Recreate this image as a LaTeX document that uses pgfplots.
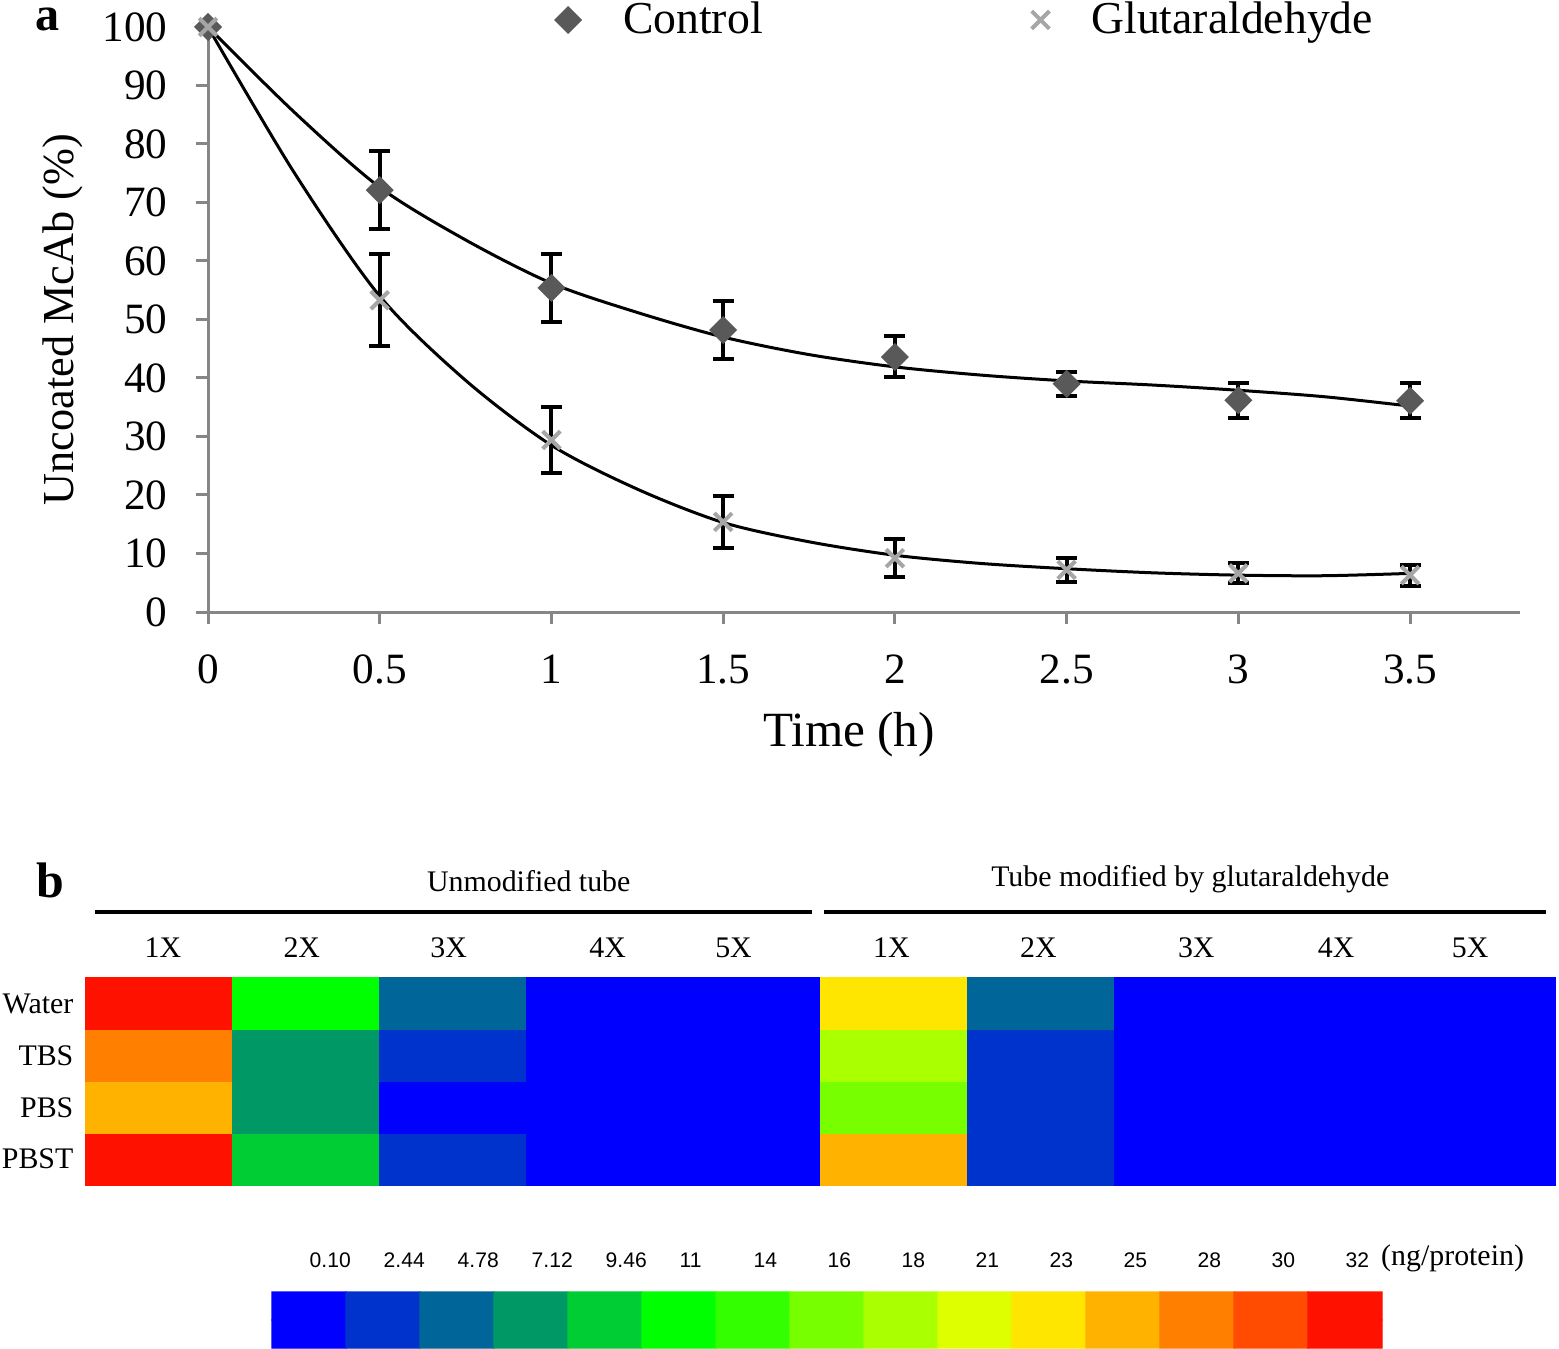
\documentclass[border=0pt]{standalone}
\usepackage{pgfplots}
\pgfplotsset{compat=1.18}
\usepackage{fontspec}
\setmainfont{Liberation Serif}
\newfontfamily\arialfont{Liberation Sans}

\definecolor{axisgray}{RGB}{134,134,134}
\definecolor{ctrlgray}{RGB}{89,89,89}
\definecolor{glutgray}{RGB}{166,166,166}

% 15 colour levels of the heat map, index 0 (0.10) .. 14 (32 ng/protein)
\pgfplotsset{
  colormap={heat}{rgb255=(0,0,255) rgb255=(0,51,204) rgb255=(0,102,153)
    rgb255=(0,153,102) rgb255=(0,204,51) rgb255=(0,255,0) rgb255=(51,255,0)
    rgb255=(119,255,0) rgb255=(170,255,0) rgb255=(221,255,0) rgb255=(255,230,0)
    rgb255=(255,179,0) rgb255=(255,127,0) rgb255=(255,76,0) rgb255=(255,17,0)}
}

\begin{document}
\begin{tikzpicture}
\useasboundingbox (0,0) rectangle (155.9mm,-134.9mm);

% ---------------- panel a ----------------
\begin{axis}[
  at={(20.8mm,-61.2mm)}, anchor=south west,
  width=131.2mm, height=58.5mm, scale only axis,
  xmin=0, xmax=3.82, ymin=0, ymax=100,
  axis lines=left, axis line style={draw=axisgray, line width=0.3mm, -},
  xtick={0,0.5,...,3.5}, ytick={0,10,...,100},
  tick align=outside, major tick length=1.2mm,
  tick style={draw=axisgray, line width=0.3mm},
  /pgf/number format/assume math mode=true,
  ticklabel style={font=\fontsize{12.3}{14}\selectfont},
  yticklabel style={anchor=east, inner sep=0pt, xshift=-2.8mm},
  xticklabel style={anchor=base, inner sep=0pt, yshift=-5.9mm},
  xlabel={Time (h)}, ylabel={Uncoated McAb (\%)},
  xlabel style={font=\fontsize{14}{16}\selectfont, at={(axis description cs:0.4886,-0.21)}, anchor=center},
  ylabel style={font=\fontsize{12.6}{15}\selectfont, at={(axis description cs:-0.111,0.5)}, anchor=center},
  clip=false,
  legend columns=2,
  legend style={draw=none, fill=none, inner sep=0pt, outer sep=0pt,
    at={(axis description cs:0.2645,1.012)}, anchor=west,
    font=\fontsize{13}{15}\selectfont,
    /tikz/every odd column/.append style={column sep=3.5mm},
    /tikz/every even column/.append style={column sep=26.2mm}},
]
\addplot[only marks, mark=square*, mark size=0.92mm,
  mark options={rotate=45, fill=ctrlgray, draw=ctrlgray},
  error bars/.cd, y dir=both, y explicit,
  error bar style={black, line width=0.4mm},
  error mark options={rotate=90, mark size=1.05mm, black, line width=0.4mm}]
  coordinates {(0.5,72.1) +- (0,6.7) (1,55.4) +- (0,5.8) (1.5,48.2) +- (0,4.9)
    (2,43.6) +- (0,3.5) (2.5,39.0) +- (0,2.1) (3,36.2) +- (0,3.0) (3.5,36.1) +- (0,3.0)};
\addlegendentry{Control}
\addplot[only marks, mark=x, mark size=1.25mm,
  mark options={draw=glutgray, line width=0.4mm},
  error bars/.cd, y dir=both, y explicit,
  error bar style={black, line width=0.4mm},
  error mark options={rotate=90, mark size=1.05mm, black, line width=0.4mm}]
  coordinates {(0.5,53.3) +- (0,7.9) (1,29.4) +- (0,5.6) (1.5,15.4) +- (0,4.5)
    (2,9.2) +- (0,3.2) (2.5,7.2) +- (0,2.1) (3,6.6) +- (0,1.7) (3.5,6.3) +- (0,1.8)};
\addlegendentry{Glutaraldehyde}
% starting points (no error bar)
\addplot[forget plot, only marks, mark=square*, mark size=0.92mm,
  mark options={rotate=45, fill=ctrlgray, draw=ctrlgray}] coordinates {(0,100)};
\addplot[forget plot, only marks, mark=x, mark size=1.25mm,
  mark options={draw=glutgray, line width=0.4mm}] coordinates {(0,100)};
% trend lines
\addplot[forget plot, black, line width=0.3mm, smooth] coordinates {
  (0,100) (0.25,85.5) (0.5,72.6) (0.75,63.6) (1,56.2) (1.25,51.2) (1.5,47.0)
  (1.75,44.0) (2,41.9) (2.25,40.5) (2.5,39.5) (2.75,38.8) (3,37.9) (3.25,36.8) (3.5,35.2)};
\addplot[forget plot, black, line width=0.3mm, smooth] coordinates {
  (0,100) (0.25,75.2) (0.5,54.0) (0.75,39.6) (1,28.5) (1.25,21.0) (1.5,15.3)
  (1.75,12.0) (2,9.7) (2.25,8.3) (2.5,7.4) (2.75,6.7) (3,6.3) (3.25,6.2) (3.5,6.6)};
\end{axis}

% ---------------- panel b: heat map ----------------
\begin{axis}[
  at={(8.6mm,-118.5mm)}, anchor=south west,
  width=146.9mm, height=20.7mm, scale only axis,
  xmin=-0.5, xmax=9.5, ymin=-0.5, ymax=3.5,
  axis line style={draw=none}, tick style={draw=none}, major tick length=0pt,
  colormap name=heat, colormap access=direct,
  xtick={0.024,0.969,1.969,3.051,3.908,4.983,5.983,7.058,8.010,8.922},
  xticklabels={1X,2X,3X,4X,5X,1X,2X,3X,4X,5X},
  xticklabel pos=right,
  xticklabel style={anchor=base, inner sep=0pt, yshift=2mm, font=\fontsize{8.5}{10}\selectfont},
  ytick={0,1,2,3}, yticklabels={PBST,PBS,TBS,Water},
  yticklabel style={anchor=east, inner sep=0pt, xshift=-1.2mm, font=\fontsize{8.5}{10}\selectfont},
  clip=false,
]
\addplot[matrix plot*, mesh/cols=10, point meta=explicit] table[meta=c] {
x y c
0 0 14
1 0 4
2 0 1
3 0 0
4 0 0
5 0 11
6 0 1
7 0 0
8 0 0
9 0 0

0 1 11
1 1 3
2 1 0
3 1 0
4 1 0
5 1 7
6 1 1
7 1 0
8 1 0
9 1 0

0 2 12
1 2 3
2 2 1
3 2 0
4 2 0
5 2 8
6 2 1
7 2 0
8 2 0
9 2 0

0 3 14
1 3 5
2 3 2
3 3 0
4 3 0
5 3 10
6 3 2
7 3 0
8 3 0
9 3 0
};
\draw[black, line width=0.33mm] (axis cs:-0.439,4.775) -- (axis cs:4.439,4.775);
\draw[black, line width=0.33mm] (axis cs:4.527,4.775) -- (axis cs:9.439,4.775);
\node[anchor=base, inner sep=0pt, font=\fontsize{8.5}{10}\selectfont] at (axis cs:2.514,5.162) {Unmodified tube};
\node[anchor=base, inner sep=0pt, font=\fontsize{8.5}{10}\selectfont] at (axis cs:7.017,5.259) {Tube modified by glutaraldehyde};
\end{axis}

% ---------------- colour scale ----------------
\begin{axis}[
  at={(27.2mm,-134.8mm)}, anchor=south west,
  width=111mm, height=5.6mm, scale only axis,
  xmin=-0.5, xmax=14.5, ymin=-0.5, ymax=1.5,
  axis line style={draw=none}, tick style={draw=none}, major tick length=0pt,
  colormap name=heat, colormap access=direct,
  ytick=\empty, xtick={0,1,...,14},
  xticklabels={0.10,2.44,4.78,7.12,9.46,11,14,16,18,21,23,25,28,30,32},
  xticklabel pos=right,
  xticklabel style={anchor=base west, inner sep=0pt, yshift=2.5mm, font=\arialfont\fontsize{6}{7}\selectfont},
  clip=false,
]
\addplot[matrix plot*, mesh/cols=15, point meta=explicit] table[meta=c] {
x y c
0 0 0
1 0 1
2 0 2
3 0 3
4 0 4
5 0 5
6 0 6
7 0 7
8 0 8
9 0 9
10 0 10
11 0 11
12 0 12
13 0 13
14 0 14

0 1 0
1 1 1
2 1 2
3 1 3
4 1 4
5 1 5
6 1 6
7 1 7
8 1 8
9 1 9
10 1 10
11 1 11
12 1 12
13 1 13
14 1 14
};
\node[anchor=base west, inner sep=0pt, font=\fontsize{8.5}{10}\selectfont] at (axis cs:14.48,2.43) {(ng/protein)};
\end{axis}

\node[anchor=base west, inner sep=0pt, font=\bfseries\fontsize{13.7}{16}\selectfont] at (3.5mm,-3.1mm) {a};
\node[anchor=base west, inner sep=0pt, font=\bfseries\fontsize{14.2}{16}\selectfont] at (3.6mm,-89.8mm) {b};
\end{tikzpicture}
\end{document}
